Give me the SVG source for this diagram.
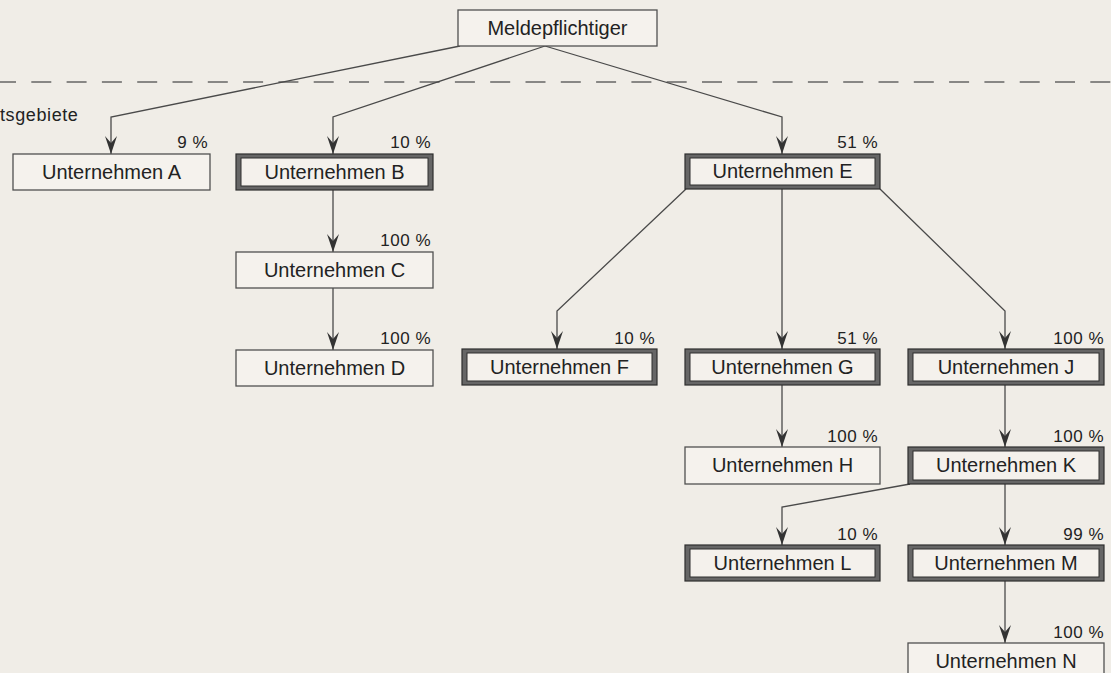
<svg xmlns="http://www.w3.org/2000/svg" width="1111" height="673" viewBox="0 0 1111 673">
<defs>
<style>
.bg{fill:#f0ede7}
.thin{fill:#f5f2ed;stroke:#505050;stroke-width:1.3}
.thko{fill:#666;stroke:#2e2e2e;stroke-width:1.2}
.thki{fill:#f4f1ec;stroke:#2e2e2e;stroke-width:1}
.lbl{font-family:"Liberation Sans",Arial,sans-serif;font-size:20px;fill:#222;text-anchor:middle}
.pct{font-family:"Liberation Sans",Arial,sans-serif;font-size:17px;fill:#222;text-anchor:end;letter-spacing:0.5px}
.note{font-family:"Liberation Sans",Arial,sans-serif;font-size:18px;fill:#222;letter-spacing:0.6px}
.con{fill:none;stroke:#4a4a4a;stroke-width:1.3;marker-end:url(#arr)}
.dash{fill:none;stroke:#666;stroke-width:1.6;stroke-dasharray:20 15.3}
</style>
<marker id="arr" viewBox="-1 -7 20 14" markerWidth="20" markerHeight="14" refX="18" refY="0" orient="auto" markerUnits="userSpaceOnUse">
<path d="M18,0 L0,-6 L7,0 L0,6 Z" fill="#333"/>
</marker>
</defs>
<rect class="bg" x="0" y="0" width="1111" height="673"/>
<line class="dash" x1="-4" y1="82" x2="1111" y2="82"/>
<text class="note" x="0" y="121">tsgebiete</text>

<g id="connectors">
<path class="con" d="M460,46 L111,117 L111,154"/>
<path class="con" d="M545,46 L333,117 L333,154"/>
<path class="con" d="M545,46 L782,117 L782,154"/>
<path class="con" d="M333,190 L333,252"/>
<path class="con" d="M333,288 L333,350"/>
<path class="con" d="M686,189 L557,311 L557,349"/>
<path class="con" d="M782,189 L782,349"/>
<path class="con" d="M880,189 L1005,311 L1005,349"/>
<path class="con" d="M782,385 L782,447"/>
<path class="con" d="M1005,385 L1005,447"/>
<path class="con" d="M910,484 L782,507 L782,545"/>
<path class="con" d="M1005,484 L1005,545"/>
<path class="con" d="M1005,581 L1005,643"/>
</g>

<g id="meldepflichtiger">
<rect class="thin" x="458" y="10" width="199" height="36"/>
<text class="lbl" x="557.5" y="35">Meldepflichtiger</text>
</g>
<g id="unternehmen-a">
<rect class="thin" x="13" y="154" width="197" height="36"/>
<text class="lbl" x="111.5" y="179">Unternehmen A</text>
<text class="pct" x="208" y="148">9 %</text>
</g>
<g id="unternehmen-b">
<rect class="thko" x="236" y="154" width="197" height="36"/>
<rect class="thki" x="241" y="158" width="187" height="28"/>
<text class="lbl" x="334.5" y="179">Unternehmen B</text>
<text class="pct" x="431" y="148">10 %</text>
</g>
<g id="unternehmen-c">
<rect class="thin" x="236" y="252" width="197" height="36"/>
<text class="lbl" x="334.5" y="277">Unternehmen C</text>
<text class="pct" x="431" y="246">100 %</text>
</g>
<g id="unternehmen-d">
<rect class="thin" x="236" y="350" width="197" height="36"/>
<text class="lbl" x="334.5" y="375">Unternehmen D</text>
<text class="pct" x="431" y="344">100 %</text>
</g>
<g id="unternehmen-e">
<rect class="thko" x="685" y="154" width="195" height="35"/>
<rect class="thki" x="690" y="158" width="185" height="27"/>
<text class="lbl" x="782.5" y="178">Unternehmen E</text>
<text class="pct" x="878" y="148">51 %</text>
</g>
<g id="unternehmen-f">
<rect class="thko" x="462" y="349" width="195" height="36"/>
<rect class="thki" x="467" y="353" width="185" height="28"/>
<text class="lbl" x="559.5" y="374">Unternehmen F</text>
<text class="pct" x="655" y="344">10 %</text>
</g>
<g id="unternehmen-g">
<rect class="thko" x="685" y="349" width="195" height="36"/>
<rect class="thki" x="690" y="353" width="185" height="28"/>
<text class="lbl" x="782.5" y="374">Unternehmen G</text>
<text class="pct" x="878" y="344">51 %</text>
</g>
<g id="unternehmen-j">
<rect class="thko" x="908" y="349" width="196" height="36"/>
<rect class="thki" x="913" y="353" width="186" height="28"/>
<text class="lbl" x="1006" y="374">Unternehmen J</text>
<text class="pct" x="1104" y="344">100 %</text>
</g>
<g id="unternehmen-h">
<rect class="thin" x="685" y="447" width="195" height="37"/>
<text class="lbl" x="782.5" y="472">Unternehmen H</text>
<text class="pct" x="878" y="442">100 %</text>
</g>
<g id="unternehmen-k">
<rect class="thko" x="908" y="447" width="196" height="37"/>
<rect class="thki" x="913" y="451" width="186" height="29"/>
<text class="lbl" x="1006" y="472">Unternehmen K</text>
<text class="pct" x="1104" y="442">100 %</text>
</g>
<g id="unternehmen-l">
<rect class="thko" x="685" y="545" width="195" height="36"/>
<rect class="thki" x="690" y="549" width="185" height="28"/>
<text class="lbl" x="782.5" y="570">Unternehmen L</text>
<text class="pct" x="878" y="540">10 %</text>
</g>
<g id="unternehmen-m">
<rect class="thko" x="908" y="545" width="196" height="36"/>
<rect class="thki" x="913" y="549" width="186" height="28"/>
<text class="lbl" x="1006" y="570">Unternehmen M</text>
<text class="pct" x="1104" y="540">99 %</text>
</g>
<g id="unternehmen-n">
<rect class="thin" x="908" y="643" width="196" height="40"/>
<text class="lbl" x="1006" y="668">Unternehmen N</text>
<text class="pct" x="1104" y="638">100 %</text>
</g>
</svg>
